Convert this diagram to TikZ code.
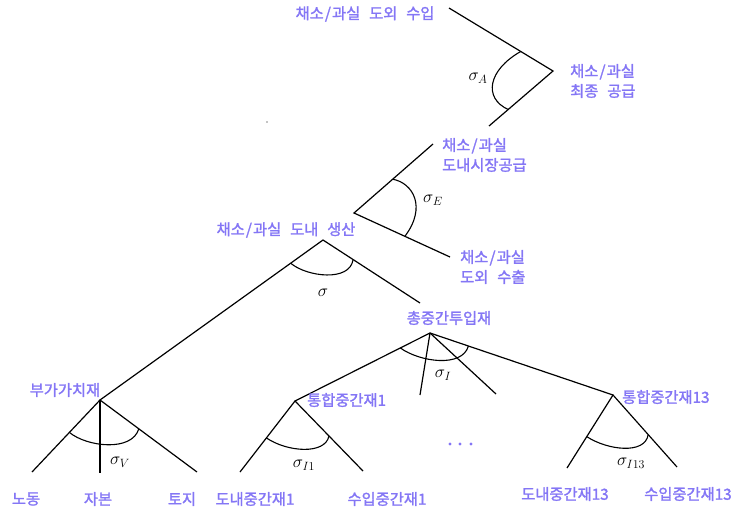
\documentclass[tikz,border=0pt]{standalone}
\usepackage{fontspec}
\usetikzlibrary{calc}
\newfontfamily\kr[WordSpace=2.6,FakeBold=1.6]{Noto Sans CJK KR}
\newcommand{\slsh}{\kern1.2pt/\kern1.2pt}
\definecolor{labc}{RGB}{132,118,245}
\begin{document}
\begin{tikzpicture}[x=1pt,y=-1pt,
  lab/.style={text=labc, font=\kr\fontsize{15.3}{20}\selectfont, inner sep=0pt},
  br/.style={line width=1.2pt, black},
  sig/.style={line width=1.1pt, black},
  sl/.style={font=\fontsize{17}{18}\selectfont, inner sep=0pt}]
\useasboundingbox (0,0) rectangle (739,512);
% ---------- top: sigma_A
\coordinate (A) at (553,71); \coordinate (A1) at (449,8); \coordinate (A2) at (489,126);
\draw[br] (A1) -- (A) -- (A2);
\draw[sig] ($(A)!0.31!(A1)$) .. controls (488,70) and (483,98) .. ($(A)!0.7!(A2)$);
\node[sl] (sA) at (478,78) {$\sigma_A$};
\node[lab] (tA1) at (365,14) {채소\slsh 과실 도외 수입};
\node[lab, align=left, anchor=west] (tA) at (570,81) {채소\slsh 과실\\최종 공급};
\fill (267,122) circle (0.7);
% ---------- sigma_E
\coordinate (E) at (354,213); \coordinate (E1) at (433,144); \coordinate (E2) at (450,257);
\draw[br] (E1) -- (E) -- (E2);
\draw[sig] ($(E)!0.49!(E1)$) .. controls (413,183) and (427,207) .. ($(E)!0.53!(E2)$);
\node[sl] (sE) at (433,200) {$\sigma_E$};
\node[lab, align=left, anchor=west] (tE1) at (442,155) {채소\slsh 과실\\도내시장공급};
\node[lab, align=left, anchor=west] (tE2) at (460,267) {채소\slsh 과실\\도외 수출};
% ---------- production
\coordinate (P) at (323,240); \coordinate (V) at (100,400); \coordinate (T0) at (420,303);
\draw[br] (V) -- (P) -- (T0);
\draw[sig] ($(P)!0.145!(V)$) .. controls (307,277) and (350,282) .. ($(P)!0.31!(T0)$);
\node[sl] (s) at (323,293) {$\sigma$};
\node[lab] (tP) at (286,230) {채소\slsh 과실 도내 생산};
% ---------- value added
\coordinate (V1) at (32,472); \coordinate (V2) at (100,473); \coordinate (V3) at (197,472);
\draw[br] (V1) -- (V) -- (V3);
\draw[br] (V) -- (V2);
\draw[sig] ($(V)!0.45!(V1)$) .. controls (87,447) and (132,452) .. ($(V)!0.4!(V3)$);
\node[sl] (sV) at (120,462) {$\sigma_V$};
\node[lab] (tV) at (65,390) {부가가치재};
\node[lab] (l1) at (26,499) {노동};
\node[lab] (l2) at (98,499) {자본};
\node[lab] (l3) at (182,499) {토지};
% ---------- total intermediate
\coordinate (T) at (430,333); \coordinate (I1) at (295,401); \coordinate (I13) at (613,395);
\coordinate (Tm1) at (420,395); \coordinate (Tm2) at (496,394);
\draw[br] (I1) -- (T) -- (I13);
\draw[br] (T) -- (Tm1);
\draw[br] (T) -- (Tm2);
\draw[sig] ($(T)!0.22!(I1)$) .. controls (420,362) and (462,368) .. ($(T)!0.21!(I13)$);
\node[sl] (sI) at (443,375) {$\sigma_I$};
\node[lab] (tT) at (449,318) {총중간투입재};
% ---------- I1
\coordinate (I1a) at (240,472); \coordinate (I1b) at (363,471);
\draw[br] (I1a) -- (I1) -- (I1b);
\draw[sig] ($(I1)!0.52!(I1a)$) .. controls (287,452) and (325,455) .. ($(I1)!0.5!(I1b)$);
\node[sl] (sI1) at (304,465) {$\sigma_{I1}$};
\node[lab, anchor=west] (tI1) at (307,400) {통합중간재1};
\node[lab] (l4) at (255,499) {도내중간재1};
\node[lab] (l5) at (387,499) {수입중간재1};
% ---------- I13
\coordinate (I13a) at (567,468); \coordinate (I13b) at (677,467);
\draw[br] (I13a) -- (I13) -- (I13b);
\draw[sig] ($(I13)!0.57!(I13a)$) .. controls (607,450) and (645,455) .. ($(I13)!0.55!(I13b)$);
\node[sl] (sI13) at (631,463) {$\sigma_{I13}$};
\node[lab, anchor=west] (tI13) at (622,397) {통합중간재13};
\node[lab] (l6) at (565,494) {도내중간재13};
\node[lab] (l7) at (688,494) {수입중간재13};
% dots
\foreach \x in {450,460,471} \fill[labc] (\x,444) circle (1.6);
\end{tikzpicture}
\end{document}
